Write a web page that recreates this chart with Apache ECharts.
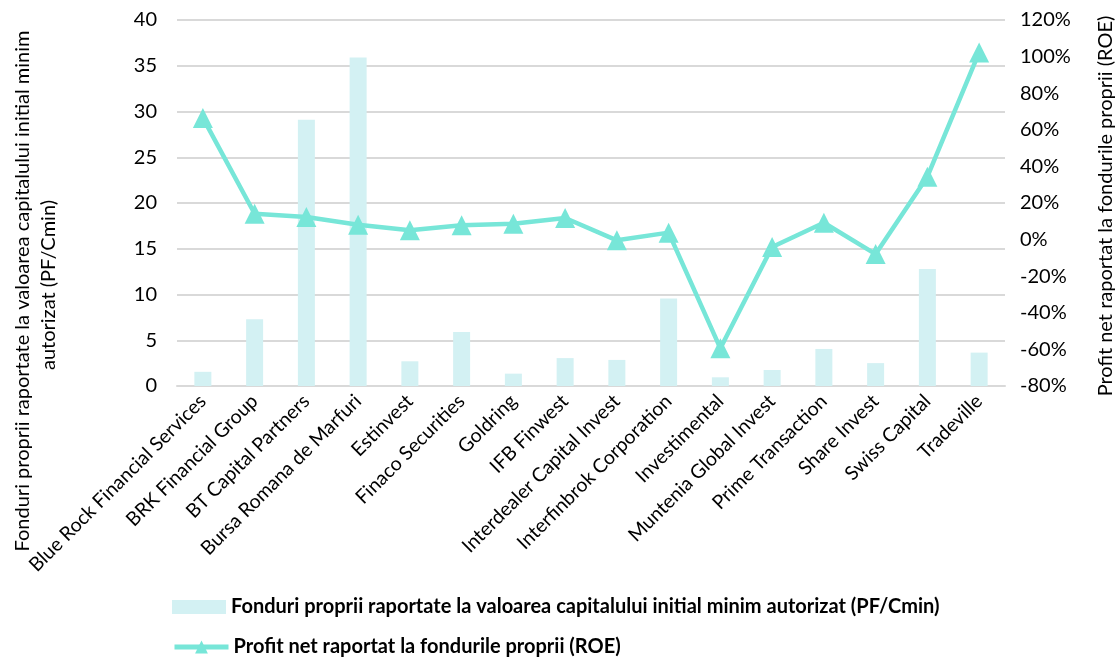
<!DOCTYPE html>
<html>
<head>
<meta charset="utf-8">
<script src="https://cdn.jsdelivr.net/npm/echarts@6/dist/echarts.min.js"></script>
<style>
html,body{margin:0;padding:0;background:#fff;}
#c{width:1117px;height:658px;}
</style>
</head>
<body>
<div id="c"></div>
<script>
const categories = ["Blue Rock Financial Services","BRK Financial Group","BT Capital Partners","Bursa Romana de Marfuri","Estinvest","Finaco Securities","Goldring","IFB Finwest","Interdealer Capital Invest","Interfinbrok Corporation","Investimental","Muntenia Global Invest","Prime Transaction","Share Invest","Swiss Capital","Tradeville"];
const pfCmin = [1.55, 7.3, 29.1, 35.9, 2.7, 5.9, 1.35, 3.05, 2.85, 9.55, 0.95, 1.75, 4.05, 2.5, 12.8, 3.65];
const roe = [66.5, 14.1, 12.3, 8.1, 5.1, 7.8, 8.7, 11.8, -0.4, 3.8, -59.4, -4.0, 9.2, -7.9, 34.4, 102.3];
const seriesNames = ["Fonduri proprii raportate la valoarea capitalului initial minim autorizat (PF/Cmin)", "Profit net raportat la fondurile proprii (ROE)"];
const leftTitle = ["Fonduri proprii raportate la valoarea capitalului initial minim", "autorizat (PF/Cmin)"];
const rightTitle = "Profit net raportat la fondurile proprii (ROE)";

const FONT = "Lato";
const chart = echarts.init(document.getElementById('c'), null, {renderer:'canvas'});
const legendText = {fontFamily:FONT, fontSize:20, fontWeight:'bold', color:'#000'};
chart.setOption({
  animation:false,
  backgroundColor:'#fff',
  textStyle:{fontFamily:FONT},
  grid:{left:177, right:112, top:20, bottom:272, containLabel:false},
  legend:[
    {left:167, top:592, itemWidth:54, itemHeight:14, textStyle:legendText,
     data:[{name:seriesNames[0], icon:'rect'}]},
    {left:167, top:632, itemWidth:54, itemHeight:16, textStyle:legendText,
     lineStyle:{width:5},
     data:[{name:seriesNames[1]}]}
  ],
  xAxis:{
    type:'category', data:categories,
    axisLine:{lineStyle:{color:'#d9d9d9', width:2}},
    axisTick:{show:false},
    axisLabel:{rotate:45, fontSize:19.5, color:'#000', fontFamily:FONT, interval:0, margin:12}
  },
  yAxis:[
    {type:'value', min:0, max:40, interval:5,
     axisLine:{show:false}, axisTick:{show:false},
     axisLabel:{fontSize:20, color:'#000', margin:20, fontFamily:FONT},
     splitLine:{lineStyle:{color:'#d9d9d9', width:2}}},
    {type:'value', min:-80, max:120, interval:20, position:'right',
     axisLine:{show:false}, axisTick:{show:false},
     axisLabel:{fontSize:20, color:'#000', margin:15, formatter:'{value}%', fontFamily:FONT},
     splitLine:{show:false}}
  ],
  graphic:[
    {type:'text', x:23, y:291, rotation:Math.PI/2,
     style:{text:leftTitle[0], font:'20px '+FONT, fill:'#000', align:'center', verticalAlign:'middle'}},
    {type:'text', x:49, y:285, rotation:Math.PI/2,
     style:{text:leftTitle[1], font:'20px '+FONT, fill:'#000', align:'center', verticalAlign:'middle'}},
    {type:'text', x:1106, y:206, rotation:Math.PI/2,
     style:{text:rightTitle, font:'20px '+FONT, fill:'#000', align:'center', verticalAlign:'middle'}}
  ],
  series:[
    {name:seriesNames[0], type:'bar', data:pfCmin, yAxisIndex:0, barWidth:17,
     itemStyle:{color:'#d3f1f3'}},
    {name:seriesNames[1], type:'line', data:roe, yAxisIndex:1,
     symbol:'triangle', symbolSize:20,
     lineStyle:{color:'#77e6d8', width:4.5},
     itemStyle:{color:'#77e6d8'}}
  ]
});
</script>
</body>
</html>
